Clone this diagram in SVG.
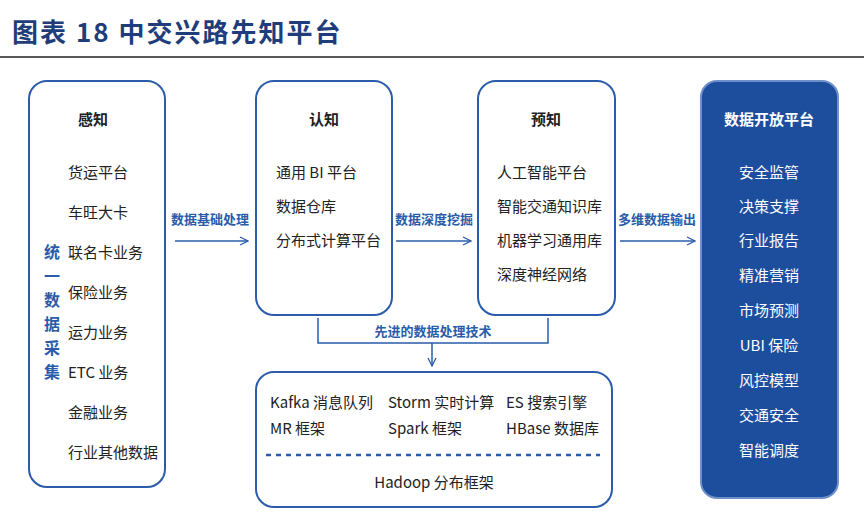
<svg xmlns="http://www.w3.org/2000/svg" width="864" height="531" viewBox="0 0 864 531">
<style>
text{font-family:"Noto Sans CJK SC","Liberation Sans",sans-serif;}
.t{font-size:15px;fill:#222}
.h{font-size:15px;font-weight:bold;fill:#222}
.b{fill:#fff;stroke:#2a5caa;stroke-width:2}
.lab{font-size:13px;font-weight:bold;fill:#2a5caa}
.w{font-size:15px;fill:#fff}
.ln{stroke:#2a5caa;stroke-width:1.5;fill:none}
</style>
<defs><marker id="a" markerWidth="10" markerHeight="10" refX="9" refY="5" orient="auto" markerUnits="userSpaceOnUse"><path d="M1,1 L9,5 L1,9" fill="none" stroke="#2a5caa" stroke-width="1.3"/></marker></defs>
<rect width="864" height="531" fill="#fff"/>
<text x="12" y="42" style="font-size:26px;font-weight:bold;fill:#1f3d7a;letter-spacing:2px">图表 18  中交兴路先知平台</text>
<line x1="0" y1="57" x2="864" y2="57" stroke="#222" stroke-width="1.5"/>
<g id="ganzhi">
<rect class="b" x="29" y="81" width="136" height="406" rx="18"/>
<text class="h" x="93" y="125" text-anchor="middle">感知</text>
<g class="t"><text x="68" y="178">货运平台</text><text x="68" y="218">车旺大卡</text><text x="68" y="258">联名卡业务</text><text x="68" y="298">保险业务</text><text x="68" y="338">运力业务</text><text x="68" y="378">ETC 业务</text><text x="68" y="418">金融业务</text><text x="68" y="458">行业其他数据</text></g>
<g class="lab" style="font-size:16px"><text x="52" y="258" text-anchor="middle">统</text><text x="52" y="282" text-anchor="middle">一</text><text x="52" y="306" text-anchor="middle">数</text><text x="52" y="330" text-anchor="middle">据</text><text x="52" y="354" text-anchor="middle">采</text><text x="52" y="378" text-anchor="middle">集</text></g>
</g>
<g id="renzhi">
<rect class="b" x="256" y="81" width="136" height="234" rx="18"/>
<text class="h" x="324" y="125" text-anchor="middle">认知</text>
<g class="t"><text x="276" y="178">通用 BI 平台</text><text x="276" y="212">数据仓库</text><text x="276" y="246">分布式计算平台</text></g>
</g>
<g id="yuzhi">
<rect class="b" x="478" y="81" width="137" height="234" rx="18"/>
<text class="h" x="546" y="125" text-anchor="middle">预知</text>
<g class="t"><text x="497" y="178">人工智能平台</text><text x="497" y="212">智能交通知识库</text><text x="497" y="246">机器学习通用库</text><text x="497" y="280">深度神经网络</text></g>
</g>
<g id="open">
<rect x="701" y="81" width="137" height="417" rx="16" fill="#1d4e9e" stroke="#6f90c8" stroke-width="2"/>
<text x="769" y="125" text-anchor="middle" style="font-size:15px;font-weight:bold;fill:#fff">数据开放平台</text>
<g class="w" text-anchor="middle"><text x="769" y="178">安全监管</text><text x="769" y="212">决策支撑</text><text x="769" y="246">行业报告</text><text x="769" y="281">精准营销</text><text x="769" y="316">市场预测</text><text x="769" y="351">UBI 保险</text><text x="769" y="386">风控模型</text><text x="769" y="421">交通安全</text><text x="769" y="456">智能调度</text></g>
</g>
<g id="tech">
<rect class="b" x="256" y="372" width="356" height="135" rx="18"/>
<g class="t"><text x="270" y="408">Kafka 消息队列</text><text x="270" y="434">MR 框架</text><text x="388" y="408">Storm 实时计算</text><text x="388" y="434">Spark 框架</text><text x="506" y="408">ES 搜索引擎</text><text x="506" y="434">HBase 数据库</text></g>
<line x1="266" y1="455" x2="600" y2="455" stroke="#2a5caa" stroke-width="2.5" stroke-dasharray="5,5"/>
<text class="t" x="434" y="488" text-anchor="middle">Hadoop 分布框架</text>
</g>
<g id="connectors">
<text class="lab" x="210" y="224" text-anchor="middle">数据基础处理</text>
<line class="ln" x1="175" y1="241" x2="248" y2="241" marker-end="url(#a)"/>
<text class="lab" x="434" y="224" text-anchor="middle">数据深度挖掘</text>
<line class="ln" x1="396" y1="241" x2="471" y2="241" marker-end="url(#a)"/>
<text class="lab" x="657" y="224" text-anchor="middle">多维数据输出</text>
<line class="ln" x1="620" y1="241" x2="695" y2="241" marker-end="url(#a)"/>
<path class="ln" d="M318,318 V343 H548 V318"/>
<text class="lab" x="433" y="336" text-anchor="middle">先进的数据处理技术</text>
<line class="ln" x1="432" y1="343" x2="432" y2="366" marker-end="url(#a)"/>
</g>
</svg>
